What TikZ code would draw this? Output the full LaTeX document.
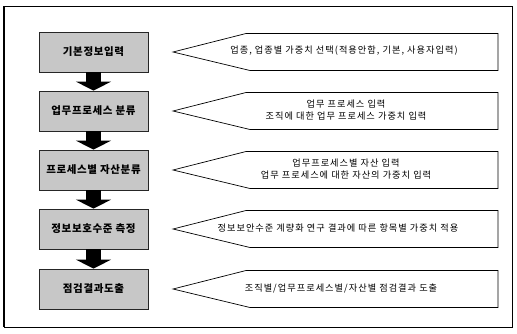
\documentclass[tikz,border=0pt]{standalone}
\usepackage{fontspec}
\setmainfont{Noto Sans CJK KR}
\usetikzlibrary{arrows.meta}
\tikzset{
  stage/.style={draw=black!85, line width=0.8pt, fill=black!22, minimum width=109pt,
    minimum height=40pt, inner sep=0pt,
    font=\fontsize{10.5}{12}\selectfont\bfseries\addfontfeature{LetterSpace=6}},
  note/.style={align=center, inner sep=0pt,
    font=\fontsize{9.2}{12}\selectfont\addfontfeature{LetterSpace=11}},
  callout/.style={draw=black, line width=0.7pt, line join=miter},
  flow/.style={line width=15pt, line cap=butt, -{Triangle[width=35pt,length=9pt]}, black},
  frame/.style={draw=black, line width=0.8pt},
}
\begin{document}
\begin{tikzpicture}[x=1pt,y=-1pt]
\useasboundingbox (0,0) rectangle (517,333);
\fill[white] (0,0) rectangle (517,333);
\draw[frame] (4,6) rectangle (512,327);
\draw[line width=2pt] (4,6) -- (4,327);
\foreach \c in {52,111,170,229,289}{
  \draw[callout] (173,\c) -- (246,{\c-18.5}) -- (498,{\c-18.5}) -- (498,{\c+18.5}) -- (250,{\c+18.5}) -- cycle;
}
\node[stage] (b1) at (93.5,52) {기본정보입력};
\node[stage] (b2) at (93.5,111) {업무프로세스 분류};
\node[stage] (b3) at (93.5,170) {프로세스별 자산분류};
\node[stage] (b4) at (93.5,229) {정보보호수준 측정};
\node[stage] (b5) at (93.5,289) {점검결과도출};
\draw[flow] (b1) -- (b2);
\draw[flow] (b2) -- (b3);
\draw[flow] (b3) -- (b4);
\draw[flow] (b4) -- (b5);
\node[note] (t1) at (344,51) {업종, 업종별 가중치 선택(적용안함, 기본, 사용자입력)};
\node[note] (t2) at (346,110) {업무 프로세스 입력\\조직에 대한 업무 프로세스 가중치 입력};
\node[note] (t3) at (346,169) {업무프로세스별 자산 입력\\업무 프로세스에 대한 자산의 가중치 입력};
\node[note] (t4) at (338,228) {정보보안수준 계량화 연구 결과에 따른 항목별 가중치 적용};
\node[note] (t5) at (341,288) {조직별/업무프로세스별/자산별 점검결과 도출};
\end{tikzpicture}
\end{document}
